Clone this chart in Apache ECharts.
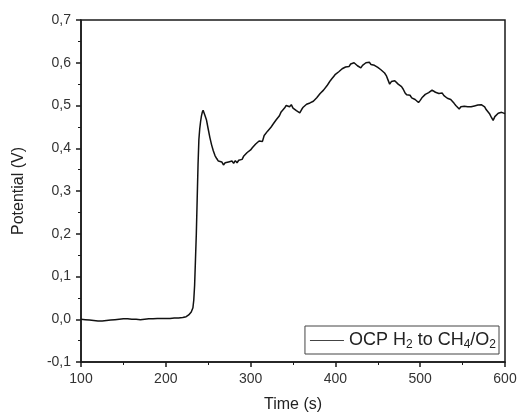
<!DOCTYPE html>
<html>
<head>
<meta charset="utf-8">
<script src="https://cdn.jsdelivr.net/npm/echarts@6/dist/echarts.min.js"></script>
<style>
  html, body { margin: 0; padding: 0; background: #fff; }
  #chart { width: 517px; height: 414px; }
</style>
</head>
<body>
<div id="chart"></div>
<script>
// time (s) and potential (V)
const timeS = [
  100, 105, 110, 115, 120, 125, 130, 135, 140, 145, 150, 155, 160, 165, 170, 175, 180, 185, 190, 195,
  200, 205, 210, 215, 220, 224, 227, 230, 232, 233, 234, 235, 236, 237, 238, 239, 240, 241, 242, 243,
  244, 245, 246, 247, 248, 250, 252, 254, 256, 258, 260, 262, 264, 266, 268, 270, 272, 274, 276, 278,
  280, 282, 284, 286, 288, 290, 292, 294, 296, 298, 300, 302, 304, 306, 308, 310, 312, 314, 316, 318,
  320, 322, 324, 326, 328, 330, 332, 334, 336, 338, 340, 342, 344, 346, 348, 350, 352, 354, 356, 358,
  360, 362, 364, 366, 368, 370, 372, 374, 376, 378, 380, 382, 384, 386, 388, 390, 392, 394, 396, 398,
  400, 402, 404, 406, 408, 410, 412, 414, 416, 418, 420, 422, 424, 426, 428, 430, 432, 434, 436, 438,
  440, 442, 444, 446, 448, 450, 452, 454, 456, 458, 460, 462, 464, 466, 468, 470, 472, 474, 476, 478,
  480, 482, 484, 486, 488, 490, 492, 494, 496, 498, 500, 502, 504, 506, 508, 510, 512, 514, 516, 518,
  520, 522, 524, 526, 528, 530, 532, 534, 536, 538, 540, 542, 544, 546, 548, 550, 552, 554, 556, 558,
  560, 562, 564, 566, 568, 570, 572, 574, 576, 578, 580, 582, 584, 586, 588, 590, 592, 594, 596, 598,
  600
];
const potentialV = [
  0.000, -0.001, -0.002, -0.003, -0.004, -0.004, -0.003, -0.002, -0.001, 0.000, 0.001, 0.001, 0.000, 0.000, -0.001, 0.000, 0.001, 0.001, 0.002, 0.002,
  0.002, 0.002, 0.003, 0.003, 0.004, 0.006, 0.010, 0.017, 0.027, 0.045, 0.080, 0.140, 0.200, 0.280, 0.360, 0.420, 0.445, 0.462, 0.475, 0.484,
  0.489, 0.485, 0.478, 0.474, 0.466, 0.445, 0.425, 0.408, 0.394, 0.383, 0.376, 0.370, 0.366, 0.368, 0.361, 0.366, 0.362, 0.368, 0.364, 0.370,
  0.365, 0.371, 0.366, 0.372, 0.368, 0.374, 0.382, 0.378, 0.390, 0.386, 0.396, 0.401, 0.398, 0.410, 0.406, 0.417, 0.420, 0.416, 0.430, 0.426,
  0.440, 0.436, 0.449, 0.455, 0.452, 0.466, 0.462, 0.476, 0.485, 0.481, 0.494, 0.500, 0.504, 0.497, 0.502, 0.494, 0.498, 0.488, 0.492, 0.483,
  0.490, 0.496, 0.492, 0.503, 0.499, 0.506, 0.502, 0.510, 0.507, 0.518, 0.522, 0.528, 0.525, 0.536, 0.540, 0.546, 0.552, 0.558, 0.563, 0.568,
  0.573, 0.570, 0.579, 0.582, 0.586, 0.584, 0.590, 0.593, 0.591, 0.597, 0.595, 0.600, 0.597, 0.593, 0.590, 0.588, 0.594, 0.596, 0.600, 0.598,
  0.601, 0.596, 0.598, 0.594, 0.592, 0.589, 0.587, 0.583, 0.580, 0.576, 0.570, 0.560, 0.550, 0.556, 0.552, 0.558, 0.555, 0.550, 0.552, 0.544,
  0.538, 0.530, 0.525, 0.521, 0.524, 0.518, 0.520, 0.514, 0.510, 0.507, 0.512, 0.518, 0.522, 0.526, 0.524, 0.530, 0.533, 0.536, 0.534, 0.531,
  0.533, 0.528, 0.526, 0.529, 0.523, 0.520, 0.517, 0.520, 0.514, 0.510, 0.505, 0.500, 0.497, 0.492, 0.497, 0.494, 0.498, 0.495, 0.497, 0.493,
  0.497, 0.494, 0.499, 0.497, 0.501, 0.498, 0.502, 0.500, 0.497, 0.490, 0.486, 0.480, 0.472, 0.465, 0.474, 0.478, 0.482, 0.479, 0.484, 0.480,
  0.481
];

const seriesName = 'OCP H2 to CH4/O2';
const font = '"Liberation Sans", Arial, sans-serif';

const chart = echarts.init(document.getElementById('chart'), null, { renderer: 'canvas' });

const axisLineStyle = { color: '#1a1a1a', width: 1.5 };

chart.setOption({
  animation: false,
  backgroundColor: '#fff',
  textStyle: { fontFamily: font },
  grid: {
    left: 81, right: 12, top: 20, bottom: 52,
    outerBoundsMode: 'none',
    show: true, borderColor: '#1a1a1a', borderWidth: 1.5
  },
  legend: {
    data: [seriesName],
    right: 18, bottom: 60,
    padding: [3, 3, 3, 5],
    borderColor: '#444', borderWidth: 1,
    backgroundColor: '#fff',
    itemWidth: 34, itemHeight: 1, itemGap: 5,
    icon: 'rect',
    itemStyle: { color: '#444' },
    formatter: () => '{a|OCP H}{s|2}{a| to CH}{s|4}{a|/O}{s|2}',
    textStyle: {
      rich: {
        a: { fontSize: 18, color: '#222', fontFamily: font, lineHeight: 21, verticalAlign: 'middle' },
        s: { fontSize: 12, color: '#222', fontFamily: font, lineHeight: 21, padding: [10, 0, 0, 0], verticalAlign: 'bottom' }
      }
    }
  },
  xAxis: {
    type: 'value',
    min: 100, max: 600, interval: 100,
    name: 'Time (s)',
    nameLocation: 'middle', nameGap: 35,
    nameTextStyle: { fontSize: 16, color: '#222', fontFamily: font },
    axisLine: { show: true, onZero: false, lineStyle: axisLineStyle },
    axisTick: { show: true, inside: false, length: 5, lineStyle: axisLineStyle },
    minorTick: { show: true, splitNumber: 2, length: 3, lineStyle: { color: '#1a1a1a', width: 1 } },
    axisLabel: { fontSize: 14, color: '#333', margin: 10, fontFamily: font },
    splitLine: { show: false }
  },
  yAxis: {
    type: 'value',
    min: -0.1, max: 0.7, interval: 0.1,
    name: 'Potential (V)',
    nameLocation: 'middle', nameGap: 54, nameRotate: 90,
    nameTextStyle: { fontSize: 16, color: '#222', fontFamily: font },
    axisLine: { show: true, onZero: false, lineStyle: axisLineStyle },
    axisTick: { show: true, inside: false, length: 5, lineStyle: axisLineStyle },
    minorTick: { show: true, splitNumber: 2, length: 3, lineStyle: { color: '#1a1a1a', width: 1 } },
    axisLabel: {
      fontSize: 14, color: '#333', margin: 10, fontFamily: font,
      formatter: v => v.toFixed(1).replace('.', ',')
    },
    splitLine: { show: false }
  },
  series: [{
    name: seriesName,
    type: 'line',
    data: timeS.map((t, i) => [t, potentialV[i]]),
    showSymbol: false,
    lineStyle: { color: '#111', width: 1.5 },
    itemStyle: { color: '#444' }
  }]
});

window.addEventListener('resize', () => chart.resize());
</script>
</body>
</html>
